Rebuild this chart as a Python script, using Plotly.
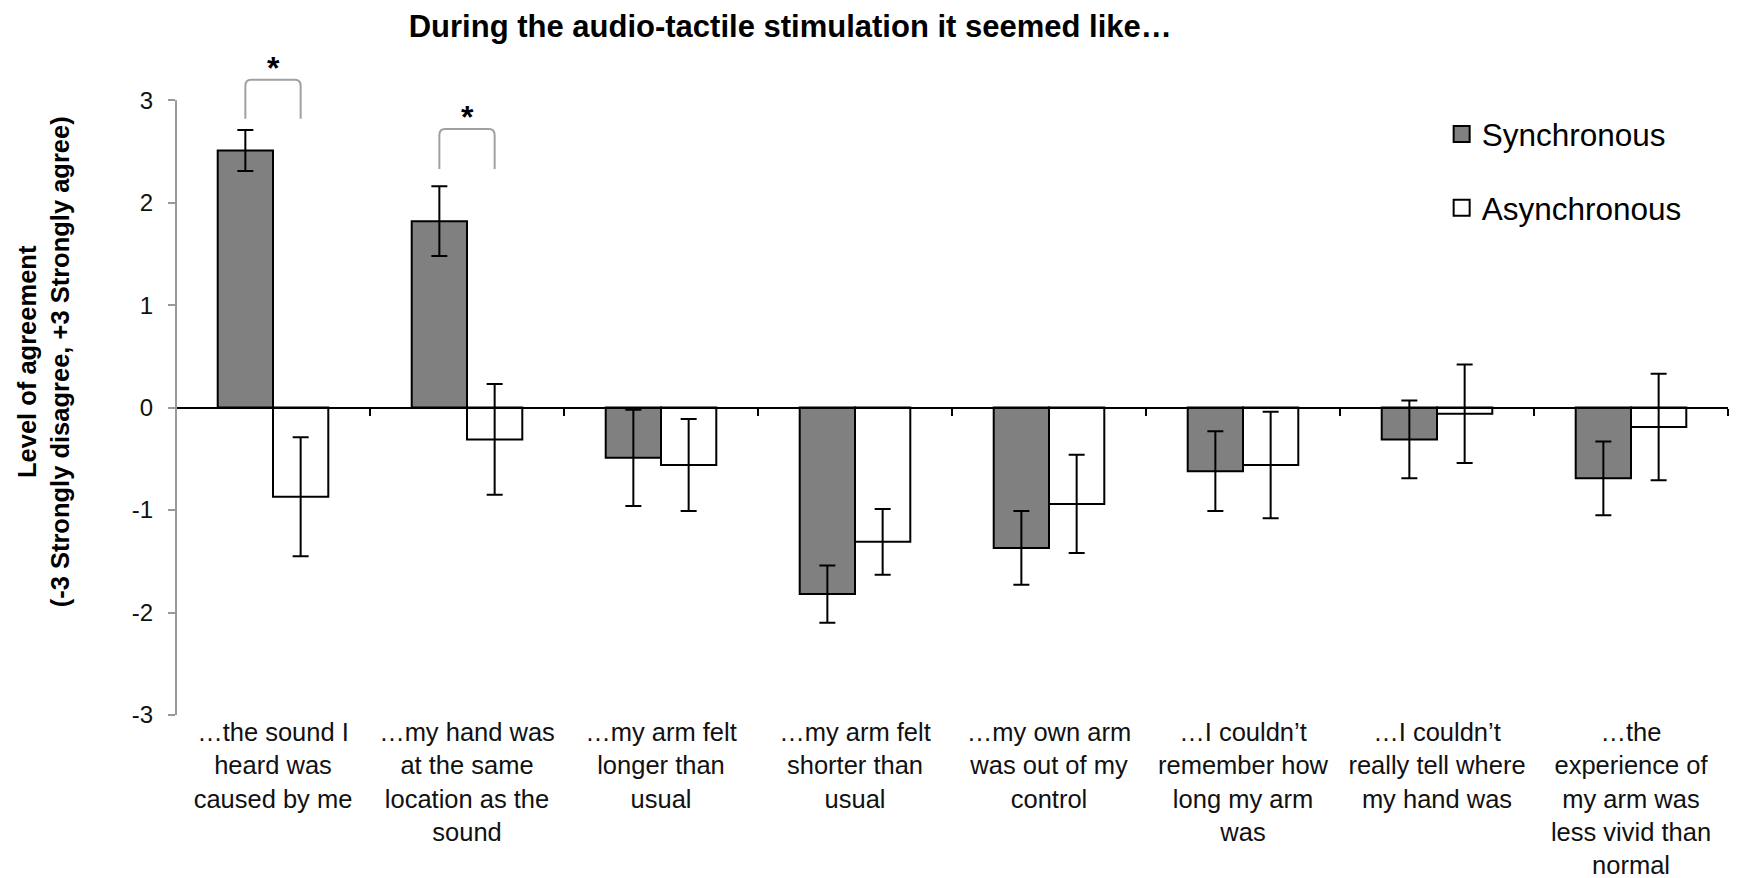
import plotly.graph_objects as go

# questionnaire statements (x categories)
statements = [
    "…the sound I<br>heard was<br>caused by me",
    "…my hand was<br>at the same<br>location as the<br>sound",
    "…my arm felt<br>longer than<br>usual",
    "…my arm felt<br>shorter than<br>usual",
    "…my own arm<br>was out of my<br>control",
    "…I couldn’t<br>remember how<br>long my arm<br>was",
    "…I couldn’t<br>really tell where<br>my hand was",
    "…the<br>experience of<br>my arm was<br>less vivid than<br>normal",
]

sync_mean = [2.51, 1.82, -0.49, -1.82, -1.37, -0.62, -0.31, -0.69]
sync_err = [0.20, 0.34, 0.47, 0.28, 0.36, 0.39, 0.38, 0.36]
async_mean = [-0.87, -0.31, -0.56, -1.31, -0.94, -0.56, -0.06, -0.19]
async_err = [0.58, 0.54, 0.45, 0.32, 0.48, 0.52, 0.48, 0.52]

y_ticks = [-3, -2, -1, 0, 1, 2, 3]
y_ticktext = ["-3", "-2", "-1", "0", "1", "2", "3"]

# significance brackets: category index, leg bottom, bracket top, star height
sig_idx = [0, 1]
sig_low = [2.82, 2.33]
sig_top = [3.20, 2.72]
sig_star = [3.31, 2.84]

FONT = "Liberation Sans, Arial, sans-serif"
Y_RANGE = [-3, 3.5]
BARGAP = 0.43
half = (1 - BARGAP) / 4  # offset of each bar centre from category centre

fig = go.Figure()

fig.add_trace(go.Bar(
    x = statements, y = sync_mean, name = "Synchronous", showlegend = False,
    marker = dict(color = "#808080", line = dict(color = "black", width = 2)),
    error_y = dict(type = "data", array = sync_err, color = "black", thickness = 2, width = 8),
))
fig.add_trace(go.Bar(
    x = statements, y = async_mean, name = "Asynchronous", showlegend = False,
    marker = dict(color = "white", line = dict(color = "black", width = 2)),
    error_y = dict(type = "data", array = async_err, color = "black", thickness = 2, width = 8),
))

# legend entries (square swatches)
for nm, col, grp in [("Synchronous", "#808080", "s"), ("Asynchronous", "white", "a")]:
    fig.add_trace(go.Scatter(
        x = [None], y = [None], mode = "markers", name = nm, legendgroup = grp,
        marker = dict(symbol = "square", size = 16, color = col, line = dict(color = "black", width = 2)),
    ))

zero_pos = (0 - Y_RANGE[0]) / (Y_RANGE[1] - Y_RANGE[0])

# y axis line only from -3 to 3
fig.add_shape(type = "line", xref = "paper", yref = "y", x0 = 0, x1 = 0,
              y0 = y_ticks[0], y1 = y_ticks[-1], line = dict(color = "#999999", width = 2))

# brackets with rounded corners and asterisks
for i, lo, top, star in zip(sig_idx, sig_low, sig_top, sig_star):
    x0, x1 = i - half, i + half
    r, rx = 0.06, 0.03
    path = (f"M {x0},{lo} L {x0},{top - r} Q {x0},{top} {x0 + rx},{top} "
            f"L {x1 - rx},{top} Q {x1},{top} {x1},{top - r} L {x1},{lo}")
    fig.add_shape(type = "path", path = path, xref = "x", yref = "y",
                  line = dict(color = "#a0a0a0", width = 2))
    fig.add_annotation(x = i, y = star, xref = "x", yref = "y", text = "<b>*</b>",
                       showarrow = False, font = dict(size = 32, color = "black", family = FONT))

# y axis title
fig.add_annotation(
    xref = "paper", yref = "paper", x = -0.0855, y = 0.53, textangle = -90,
    text = "<b>Level of agreement<br>(-3 Strongly disagree, +3 Strongly agree)</b>",
    showarrow = False, font = dict(size = 25.5, color = "black", family = FONT),
    xanchor = "center", yanchor = "middle",
)

fig.update_layout(
    width = 1750, height = 878,
    paper_bgcolor = "white", plot_bgcolor = "white",
    margin = dict(l = 168, r = 30, t = 41, b = 171),
    barmode = "group", bargap = BARGAP, bargroupgap = 0,
    font = dict(family = FONT, color = "black"),
    title = dict(text = "<b>During the audio-tactile stimulation it seemed like…</b>",
                 x = 0.447, xanchor = "center", y = 0.979, yanchor = "middle",
                 font = dict(size = 31, color = "black", family = FONT)),
    showlegend = True,
    legend = dict(x = 0.8155, y = 0.913, xanchor = "left", yanchor = "top",
                  font = dict(size = 31.5, color = "black", family = FONT),
                  tracegroupgap = 30, bgcolor = "rgba(0,0,0,0)"),
    xaxis = dict(
        anchor = "free", position = zero_pos,
        showline = True, linecolor = "black", linewidth = 2,
        ticks = "outside", tickson = "boundaries", ticklen = 7, tickwidth = 2, tickcolor = "black",
        showgrid = False, zeroline = False,
        tickfont = dict(size = 25.5, color = "#111111", family = FONT),
        ticklabelstandoff = 302,
        automargin = False,
    ),
    yaxis = dict(
        range = Y_RANGE, tickvals = y_ticks, ticktext = y_ticktext,
        showline = False, showgrid = False, zeroline = False,
        ticks = "outside", ticklen = 7, tickwidth = 2, tickcolor = "#999999",
        tickfont = dict(size = 24, color = "#111111", family = FONT),
        ticklabelstandoff = 10,
    ),
)

fig.write_html("out.html")
